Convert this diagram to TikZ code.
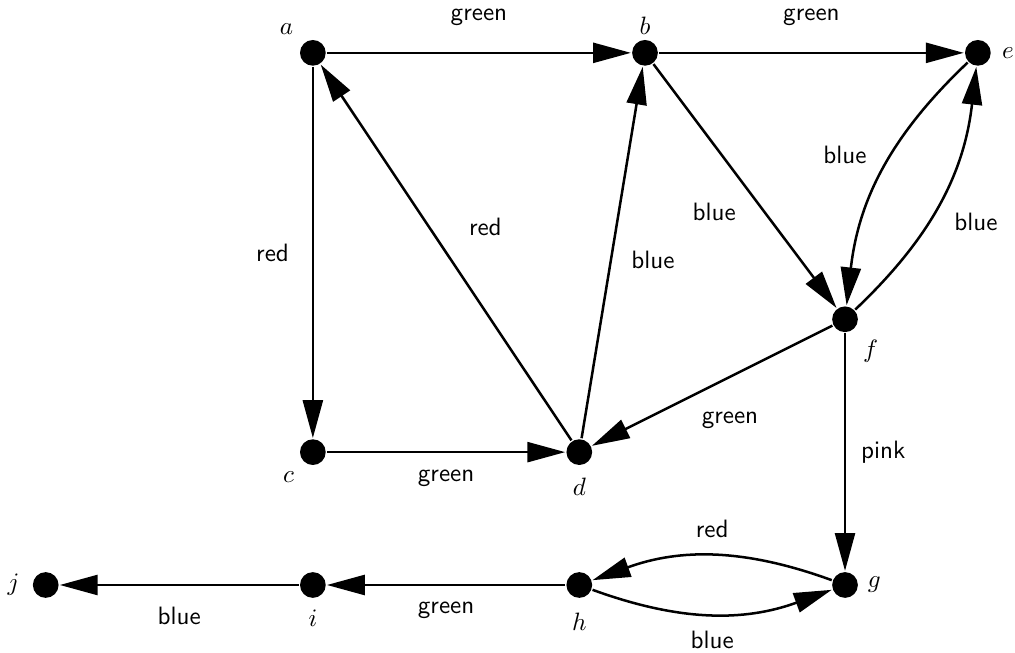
\documentclass[tikz,border=0pt]{standalone}
\usepackage{amsmath}
\usetikzlibrary{arrows.meta}

\begin{document}
\begin{tikzpicture}[>={Triangle[length=5.3mm,width=2.8mm]}, line width=1pt,
 every node/.style={font=\sffamily},
 vtx/.style={circle,fill=black,inner sep=0pt,minimum size=3.6mm},
 vname/.style={inner sep=0pt}]
\useasboundingbox (0,0) rectangle (14.21,9.13);
% vertices
\node[vtx] (a) at (4.38,8.39) {};
\node[vtx] (b) at (9.03,8.39) {};
\node[vtx] (e) at (13.69,8.39) {};
\node[vtx] (f) at (11.83,4.66) {};
\node[vtx] (c) at (4.38,2.80) {};
\node[vtx] (d) at (8.11,2.80) {};
\node[vtx] (g) at (11.83,0.94) {};
\node[vtx] (h) at (8.11,0.94) {};
\node[vtx] (i) at (4.38,0.94) {};
\node[vtx] (j) at (0.64,0.94) {};
% vertex names
\node[vname] (la) at ([shift={(-.37,.33)}]a) {$a$};
\node[vname] (lb) at ([shift={(0,.38)}]b) {$b$};
\node[vname] (le) at ([shift={(.42,0)}]e) {$e$};
\node[vname] (lf) at ([shift={(.36,-.45)}]f) {$f$};
\node[vname] (lc) at ([shift={(-.34,-.35)}]c) {$c$};
\node[vname] (ld) at ([shift={(0,-.49)}]d) {$d$};
\node[vname] (lg) at ([shift={(.41,0)}]g) {$g$};
\node[vname] (lh) at ([shift={(0,-.51)}]h) {$h$};
\node[vname] (li) at ([shift={(0,-.46)}]i) {$i$};
\node[vname] (lj) at ([shift={(-.45,0)}]j) {$j$};
% edges
\draw[->] (a)--node[above=2.5mm]{green}(b);
\draw[->] (b)--node[above=2.4mm]{green}(e);
\draw[->] (a)--node[left=2mm]{red}(c);
\draw[->] (d)--node[shift={(.55,.36)}]{red}(a);
\draw[->] (d)--node[shift={(.57,-.11)}]{blue}(b);
\draw[->] (b)--node[shift={(-.43,-.36)}]{blue}(f);
\draw[->] (e) to[bend right=20] node[shift={(-.53,.23)}]{blue} (f);
\draw[->] (f) to[bend right=20] node[shift={(.50,-.30)}]{blue} (e);
\draw[->] (f)--node[shift={(.25,-.48)}]{green}(d);
\draw[->] (c)--node[below=1.2mm]{green}(d);
\draw[->] (f)--node[right=.9mm]{pink}(g);
\draw[->] (g) to[bend right=20] node[above=1.2mm]{red} (h);
\draw[->] (h) to[bend right=20] node[below=1.1mm]{blue} (g);
\draw[->] (h)--node[below=1mm]{green}(i);
\draw[->] (i)--node[below=1.8mm]{blue}(j);
\end{tikzpicture}
\end{document}
